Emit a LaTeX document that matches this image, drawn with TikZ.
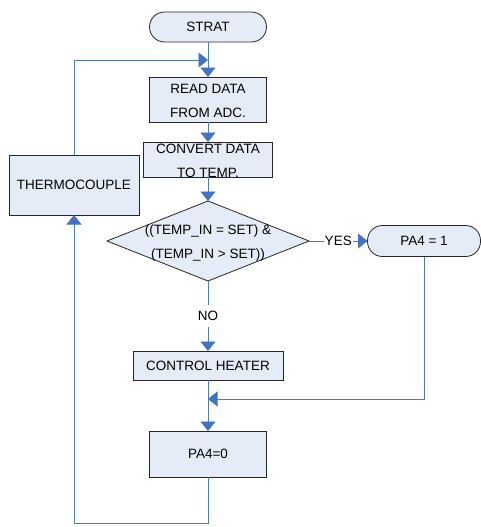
\documentclass[tikz,border=0pt]{standalone}
\usepackage{fontspec}
\setmainfont{Liberation Sans}
\usetikzlibrary{shapes.geometric, arrows.meta}
\definecolor{flowblue}{HTML}{4A7EBB}
\definecolor{tipblue}{HTML}{4472C4}
\definecolor{boxfill}{HTML}{E6ECF7}
\tikzset{
  procbox/.style={rectangle, draw=black!85, fill=boxfill, line width=0.8pt, inner sep=0pt, outer sep=0pt},
  termbox/.style={procbox, rounded corners=15pt},
  decbox/.style={diamond, draw=black!85, fill=boxfill, line width=0.8pt, inner sep=0pt, outer sep=0pt},
  flow/.style={draw=flowblue, line width=0.8pt},
  flowarrow/.style={flow, -{Triangle[width=15pt, length=9.5pt, color=tipblue]}},
  boxtext/.style={font=\fontsize{13.5}{24}\selectfont, align=center, text=black},
  lbl/.style={font=\fontsize{13.5}{15}\selectfont, fill=white, text=black}
}

\begin{document}
\begin{tikzpicture}[x=1pt, y=-1pt]
\useasboundingbox (0,0) rectangle (481,527);

% Boxes with external text
\node[termbox, minimum width=117pt, minimum height=30pt] (strat) at (208,27) {};
\node[procbox, minimum width=117pt, minimum height=45pt] (read) at (208,99.5) {};
\node[procbox, minimum width=129pt, minimum height=35pt] (convert) at (208,159.5) {};
\node[procbox, minimum width=130pt, minimum height=60pt] (thermo) at (74,185) {};
\node[decbox, minimum width=202pt, minimum height=80pt] (dia) at (208,241) {};
\node[termbox, minimum width=113pt, minimum height=31pt] (pa1) at (424,241) {};
\node[procbox, minimum width=150pt, minimum height=29pt] (heater) at (208,365.5) {};
\node[procbox, minimum width=117pt, minimum height=46pt] (pa0) at (208,454) {};

% Text
\node[boxtext] (stratT) at (strat.center) {STRAT};
\node[boxtext] (readT) at (read.center) [yshift=-1pt] {READ DATA\\FROM ADC.};
\node[boxtext] (convertT) at (convert.center) [yshift=-1.5pt] {CONVERT DATA\\TO TEMP.};
\node[boxtext] (thermoT) at (thermo.center) {THERMOCOUPLE};
\node[boxtext] (diaT) at (dia.center) [yshift=-2pt] {((TEMP\_IN = SET) \&\\(TEMP\_IN > SET))};
\node[boxtext] (pa1T) at (pa1.center) {PA4 = 1};
\node[boxtext] (heaterT) at (heater.center) {CONTROL HEATER};
\node[boxtext] (pa0T) at (pa0.center) {PA4=0};

% Join points
\coordinate (topjoin) at (208,60);
\coordinate (midjoin) at (208,399);
\coordinate (botturn) at (208,523);

% Connectors
\draw[flowarrow] (strat) -- (read);
\draw[flowarrow] (thermo.north) |- (topjoin);
\draw[flowarrow] (read) -- (convert);
\draw[flowarrow] (convert) -- (dia);
\draw[flowarrow] (dia.east) -- node[lbl, inner xsep=1pt, inner ysep=1pt] (yes) {YES} (pa1.west);
\draw[flowarrow] (dia.south) -- node[lbl, inner xsep=1pt, inner ysep=6.5pt] (no) {NO} (heater.north);
\draw[flowarrow] (pa1.south) |- (midjoin);
\draw[flowarrow] (heater) -- (pa0);
\draw[flowarrow] (pa0.south) -- (botturn) -| (thermo.south);
\end{tikzpicture}
\end{document}
